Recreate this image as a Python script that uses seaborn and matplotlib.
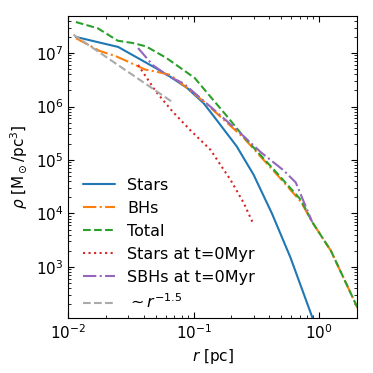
import matplotlib
matplotlib.use('Agg')
import matplotlib.pyplot as plt
import seaborn as sns
import pandas as pd

# density profiles (r in pc, rho in Msun/pc^3)
r_stars = [0.0115, 0.025, 0.050, 0.065, 0.089, 0.12, 0.145, 0.22, 0.30, 0.42, 0.59, 0.88, 0.95]
rho_stars = [2.0e7, 1.3e7, 5.2e6, 3.6e6, 2.2e6, 1.15e6, 6.5e5, 1.8e5, 5.3e4, 1.0e4, 1.5e3, 1.15e2, 7e1]

r_bhs = [0.0115, 0.0177, 0.024, 0.030, 0.041, 0.050, 0.065, 0.094, 0.12, 0.25, 0.342, 0.465, 0.714, 0.88, 1.24, 2.05]
rho_bhs = [1.9e7, 1.1e7, 8.7e6, 6.9e6, 4.9e6, 4.5e6, 3.9e6, 2.0e6, 1.24e6, 2.6e5, 1.15e5, 5.2e4, 1.66e4, 6.9e3, 2.0e3, 1.6e2]

r_total = [0.0115, 0.0172, 0.0248, 0.0327, 0.0418, 0.0605, 0.102, 0.128, 0.18, 0.251, 0.44, 0.714, 0.88, 1.24, 2.05]
rho_total = [3.8e7, 2.9e7, 1.7e7, 1.54e7, 1.33e7, 8.1e6, 3.4e6, 1.8e6, 7e5, 2.7e5, 6.4e4, 1.8e4, 6.9e3, 2.0e3, 1.6e2]

r_stars0 = [0.036, 0.050, 0.068, 0.094, 0.136, 0.197, 0.251, 0.30]
rho_stars0 = [6.0e6, 1.9e6, 8e5, 3.6e5, 1.55e5, 4.2e4, 1.55e4, 6.2e3]

r_sbhs0 = [0.036, 0.047, 0.064, 0.083, 0.145, 0.222, 0.342, 0.52, 0.65, 0.88]
rho_sbhs0 = [1.24e7, 6e6, 3.6e6, 2.7e6, 8.7e5, 3.6e5, 1.4e5, 6.4e4, 3.8e4, 6.9e3]

r_slope = [0.011, 0.068]
rho_slope = [2.2e7, 1.2e6]

series = [
    ('Stars', r_stars, rho_stars, 'C0', '-'),
    ('BHs', r_bhs, rho_bhs, 'C1', '-.'),
    ('Total', r_total, rho_total, 'C2', '--'),
    ('Stars at t=0Myr', r_stars0, rho_stars0, 'C3', ':'),
    ('SBHs at t=0Myr', r_sbhs0, rho_sbhs0, 'C4', '-.'),
    (r'$\sim r^{-1.5}$', r_slope, rho_slope, '#aaaaaa', '--'),
]

sns.set_style('ticks')
plt.rcParams['font.family'] = ['DejaVu Sans']
plt.rcParams['xtick.direction'] = 'in'
plt.rcParams['ytick.direction'] = 'in'
plt.rcParams['xtick.top'] = True
plt.rcParams['ytick.right'] = True
plt.rcParams['axes.edgecolor'] = 'black'
plt.rcParams['text.color'] = 'black'
plt.rcParams['axes.labelcolor'] = 'black'
plt.rcParams['xtick.color'] = 'black'
plt.rcParams['ytick.color'] = 'black'

fig = plt.figure(figsize=(3.73, 3.73), dpi=100)
axes = fig.add_axes([0.183, 0.147, 0.774, 0.811])

for name, r, rho, color, ls in series:
    df = pd.DataFrame({'r': r, 'rho': rho})
    sns.lineplot(data=df, x='r', y='rho', ax=axes, color=color, linestyle=ls,
                 linewidth=1.5, label=name, sort=False, estimator=None)

axes.set_xscale('log')
axes.set_yscale('log')
axes.set_xlim(0.01, 2)
axes.set_ylim(1.1e2, 5e7)

axes.tick_params(which='both', direction='in', top=True, right=True, labelsize=11)
axes.tick_params(which='major', length=4)
axes.tick_params(which='minor', length=2)

axes.set_xlabel(r'$r$ [pc]', fontsize=11)
axes.set_ylabel(r'$\rho$ [M$_\odot$/pc$^3$]', fontsize=11)

axes.legend(loc='lower left', bbox_to_anchor=(0, -0.025), frameon=False, fontsize=11.5)

fig.savefig('out.png', dpi=100)
